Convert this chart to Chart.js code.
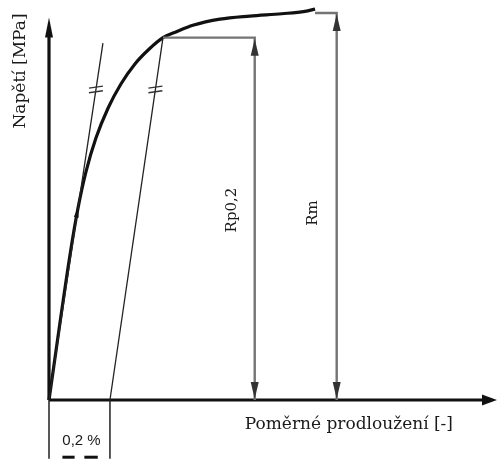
<!DOCTYPE html>
<html>
<head>
<meta charset="utf-8">
<script src="https://cdn.jsdelivr.net/npm/chart.js@4/dist/chart.umd.min.js"></script>
<style>
  html, body { margin: 0; padding: 0; background: #fff; }
  #wrap { position: relative; width: 499px; height: 459px; }
</style>
</head>
<body>
<div id="wrap"><canvas id="chart"></canvas></div>
<script>
// stress-strain curve (strain in %, stress in MPa)
const strain = [0, 0.069, 0.095, 0.121, 0.154, 0.194, 0.236, 0.282, 0.328, 0.374, 0.420, 0.472, 0.561, 0.659, 0.764, 0.840, 0.873];
const stress = [0, 188, 248, 295, 339, 378, 409, 435, 454, 469, 477, 485, 493, 497, 500, 503, 506];

// characteristic values
const offset = 0.2;              // the 0,2 % offset
const rp02 = 469;                // Rp0,2
const rm = 501;                  // Rm
const rpStrain = 0.374;          // where the offset line meets the curve
const rmStrain = 0.873;          // end of the curve
const rpDimX = 0.675;            // x of the Rp0,2 dimension line
const rmDimX = 0.944;            // x of the Rm dimension line
const elasticEnd = [0.177, 462]; // top of the tangent from the origin
const hashStress = 402;          // the "=" marks on both parallel lines
const bracketDepth = -76;        // how far the 0,2 % bracket goes below the axis

// axes
const xMax = 1.47;
const yMax = 510;
const xAxisEnd = 1.47;
const yAxisEnd = 495;

const yTitle = 'Napětí [MPa]';
const xTitle = 'Poměrné prodloužení [-]';
const rpLabel = 'Rp0,2';
const rmLabel = 'Rm';
const offsetLabel = '0,2 %';

const pts = (xs, ys) => xs.map((v, i) => ({ x: v, y: ys[i] }));

function line(data, color, width) {
  return {
    data: data,
    showLine: true,
    borderColor: color,
    borderWidth: width,
    pointRadius: 0,
    fill: false,
    clip: false
  };
}

// filled arrowhead, tip at (tx, ty), pointing along (dx, dy)
function arrow(ctx, tx, ty, dx, dy, len, w, color) {
  const n = Math.hypot(dx, dy);
  dx /= n; dy /= n;
  const bx = tx - dx * len, by = ty - dy * len;
  ctx.beginPath();
  ctx.moveTo(tx, ty);
  ctx.lineTo(bx - dy * w / 2, by + dx * w / 2);
  ctx.lineTo(bx + dy * w / 2, by - dx * w / 2);
  ctx.closePath();
  ctx.fillStyle = color;
  ctx.fill();
}

const decor = {
  id: 'decor',
  afterDatasetsDraw(chart) {
    const ctx = chart.ctx;
    const X = v => chart.scales.x.getPixelForValue(v);
    const Y = v => chart.scales.y.getPixelForValue(v);
    ctx.save();

    // axis arrows
    arrow(ctx, X(0), Y(yAxisEnd), 0, -1, 20, 8, '#111');
    arrow(ctx, X(xAxisEnd), Y(0), 1, 0, 15, 11, '#111');

    // dimension arrows
    arrow(ctx, X(rpDimX), Y(rp02) + 1, 0, -1, 17, 8, '#333');
    arrow(ctx, X(rpDimX), Y(0) - 1, 0, 1, 17, 8, '#333');
    arrow(ctx, X(rmDimX), Y(rm) + 1, 0, -1, 17, 8, '#333');
    arrow(ctx, X(rmDimX), Y(0) - 1, 0, 1, 17, 8, '#333');

    // small loading arrow on the curve
    arrow(ctx, X(strain[2]), Y(stress[2]),
      X(strain[3]) - X(strain[1]), Y(stress[3]) - Y(stress[1]), 9, 5, '#111');

    // "=" marks on the tangent and on the offset line
    const marks = [
      [X(elasticEnd[0] * hashStress / elasticEnd[1]), Y(hashStress)],
      [X(offset + (rpStrain - offset) * hashStress / rp02), Y(hashStress)]
    ];
    ctx.strokeStyle = '#333';
    ctx.lineWidth = 1.3;
    marks.forEach(([cx, cy]) => {
      [-2.3, 2.3].forEach(o => {
        ctx.beginPath();
        ctx.moveTo(cx - 7, cy + o + 1);
        ctx.lineTo(cx + 7, cy + o - 1);
        ctx.stroke();
      });
    });

    // marks at the bottom of the 0,2 % bracket
    ctx.strokeStyle = '#111';
    ctx.lineWidth = 3;
    [[X(offset * 0.22), X(offset * 0.42)], [X(offset * 0.58), X(offset * 0.8)]].forEach(([a, b]) => {
      ctx.beginPath();
      ctx.moveTo(a, Y(bracketDepth) - 1.5);
      ctx.lineTo(b, Y(bracketDepth) - 1.5);
      ctx.stroke();
    });

    // texts
    ctx.fillStyle = '#1a1a1a';
    ctx.font = '17px "DejaVu Serif"';
    ctx.textAlign = 'right';
    ctx.textBaseline = 'alphabetic';
    ctx.fillText(xTitle, X(xAxisEnd) - 44, Y(0) + 29);

    ctx.textAlign = 'center';
    ctx.textBaseline = 'middle';
    const vtext = (t, x, y, font) => {
      ctx.save();
      ctx.translate(x, y);
      ctx.rotate(-Math.PI / 2);
      ctx.font = font;
      ctx.fillText(t, 0, 0);
      ctx.restore();
    };
    vtext(yTitle, X(0) - 28, 71, '17px "DejaVu Serif"');
    vtext(rpLabel, X(rpDimX) - 23, 210, '15px "DejaVu Serif"');
    vtext(rmLabel, X(rmDimX) - 24, 213, '15px "DejaVu Serif"');

    ctx.font = '15px "Liberation Sans"';
    ctx.fillText(offsetLabel, X(offset / 2) + 2, Y(0) + 41);

    ctx.restore();
  }
};

new Chart(document.getElementById('chart'), {
  type: 'scatter',
  data: {
    datasets: [
      // Rp0,2 and Rm dimension lines
      line([{ x: rpStrain, y: rp02 }, { x: rpDimX, y: rp02 }, { x: rpDimX, y: 0 }], '#747474', 2.4),
      line([{ x: rmStrain, y: rm }, { x: rmDimX, y: rm }, { x: rmDimX, y: 0 }], '#747474', 2.4),
      // tangent and the parallel offset line
      line([{ x: 0, y: 0 }, { x: elasticEnd[0], y: elasticEnd[1] }], '#222', 1.3),
      line([{ x: offset, y: 0 }, { x: rpStrain, y: rp02 }], '#222', 1.3),
      // 0,2 % bracket
      line([{ x: 0, y: 0 }, { x: 0, y: bracketDepth }], '#222', 1.5),
      line([{ x: offset, y: 0 }, { x: offset, y: bracketDepth }], '#222', 1.5),
      // axes
      line([{ x: 0, y: 0 }, { x: xAxisEnd - 0.03, y: 0 }], '#111', 3.2),
      line([{ x: 0, y: 0 }, { x: 0, y: yAxisEnd - 20 }], '#111', 3.2),
      // the curve
      Object.assign(line(pts(strain, stress), '#111', 3.2), {
        tension: 0.4,
        cubicInterpolationMode: 'monotone'
      })
    ]
  },
  options: {
    responsive: true,
    maintainAspectRatio: false,
    animation: false,
    layout: { padding: { left: 49, right: 2, top: 6, bottom: 59 } },
    scales: {
      x: { type: 'linear', min: 0, max: xMax, display: false },
      y: { type: 'linear', min: 0, max: yMax, display: false }
    },
    plugins: {
      legend: { display: false },
      tooltip: { enabled: false }
    }
  },
  plugins: [decor]
});
</script>
</body>
</html>
